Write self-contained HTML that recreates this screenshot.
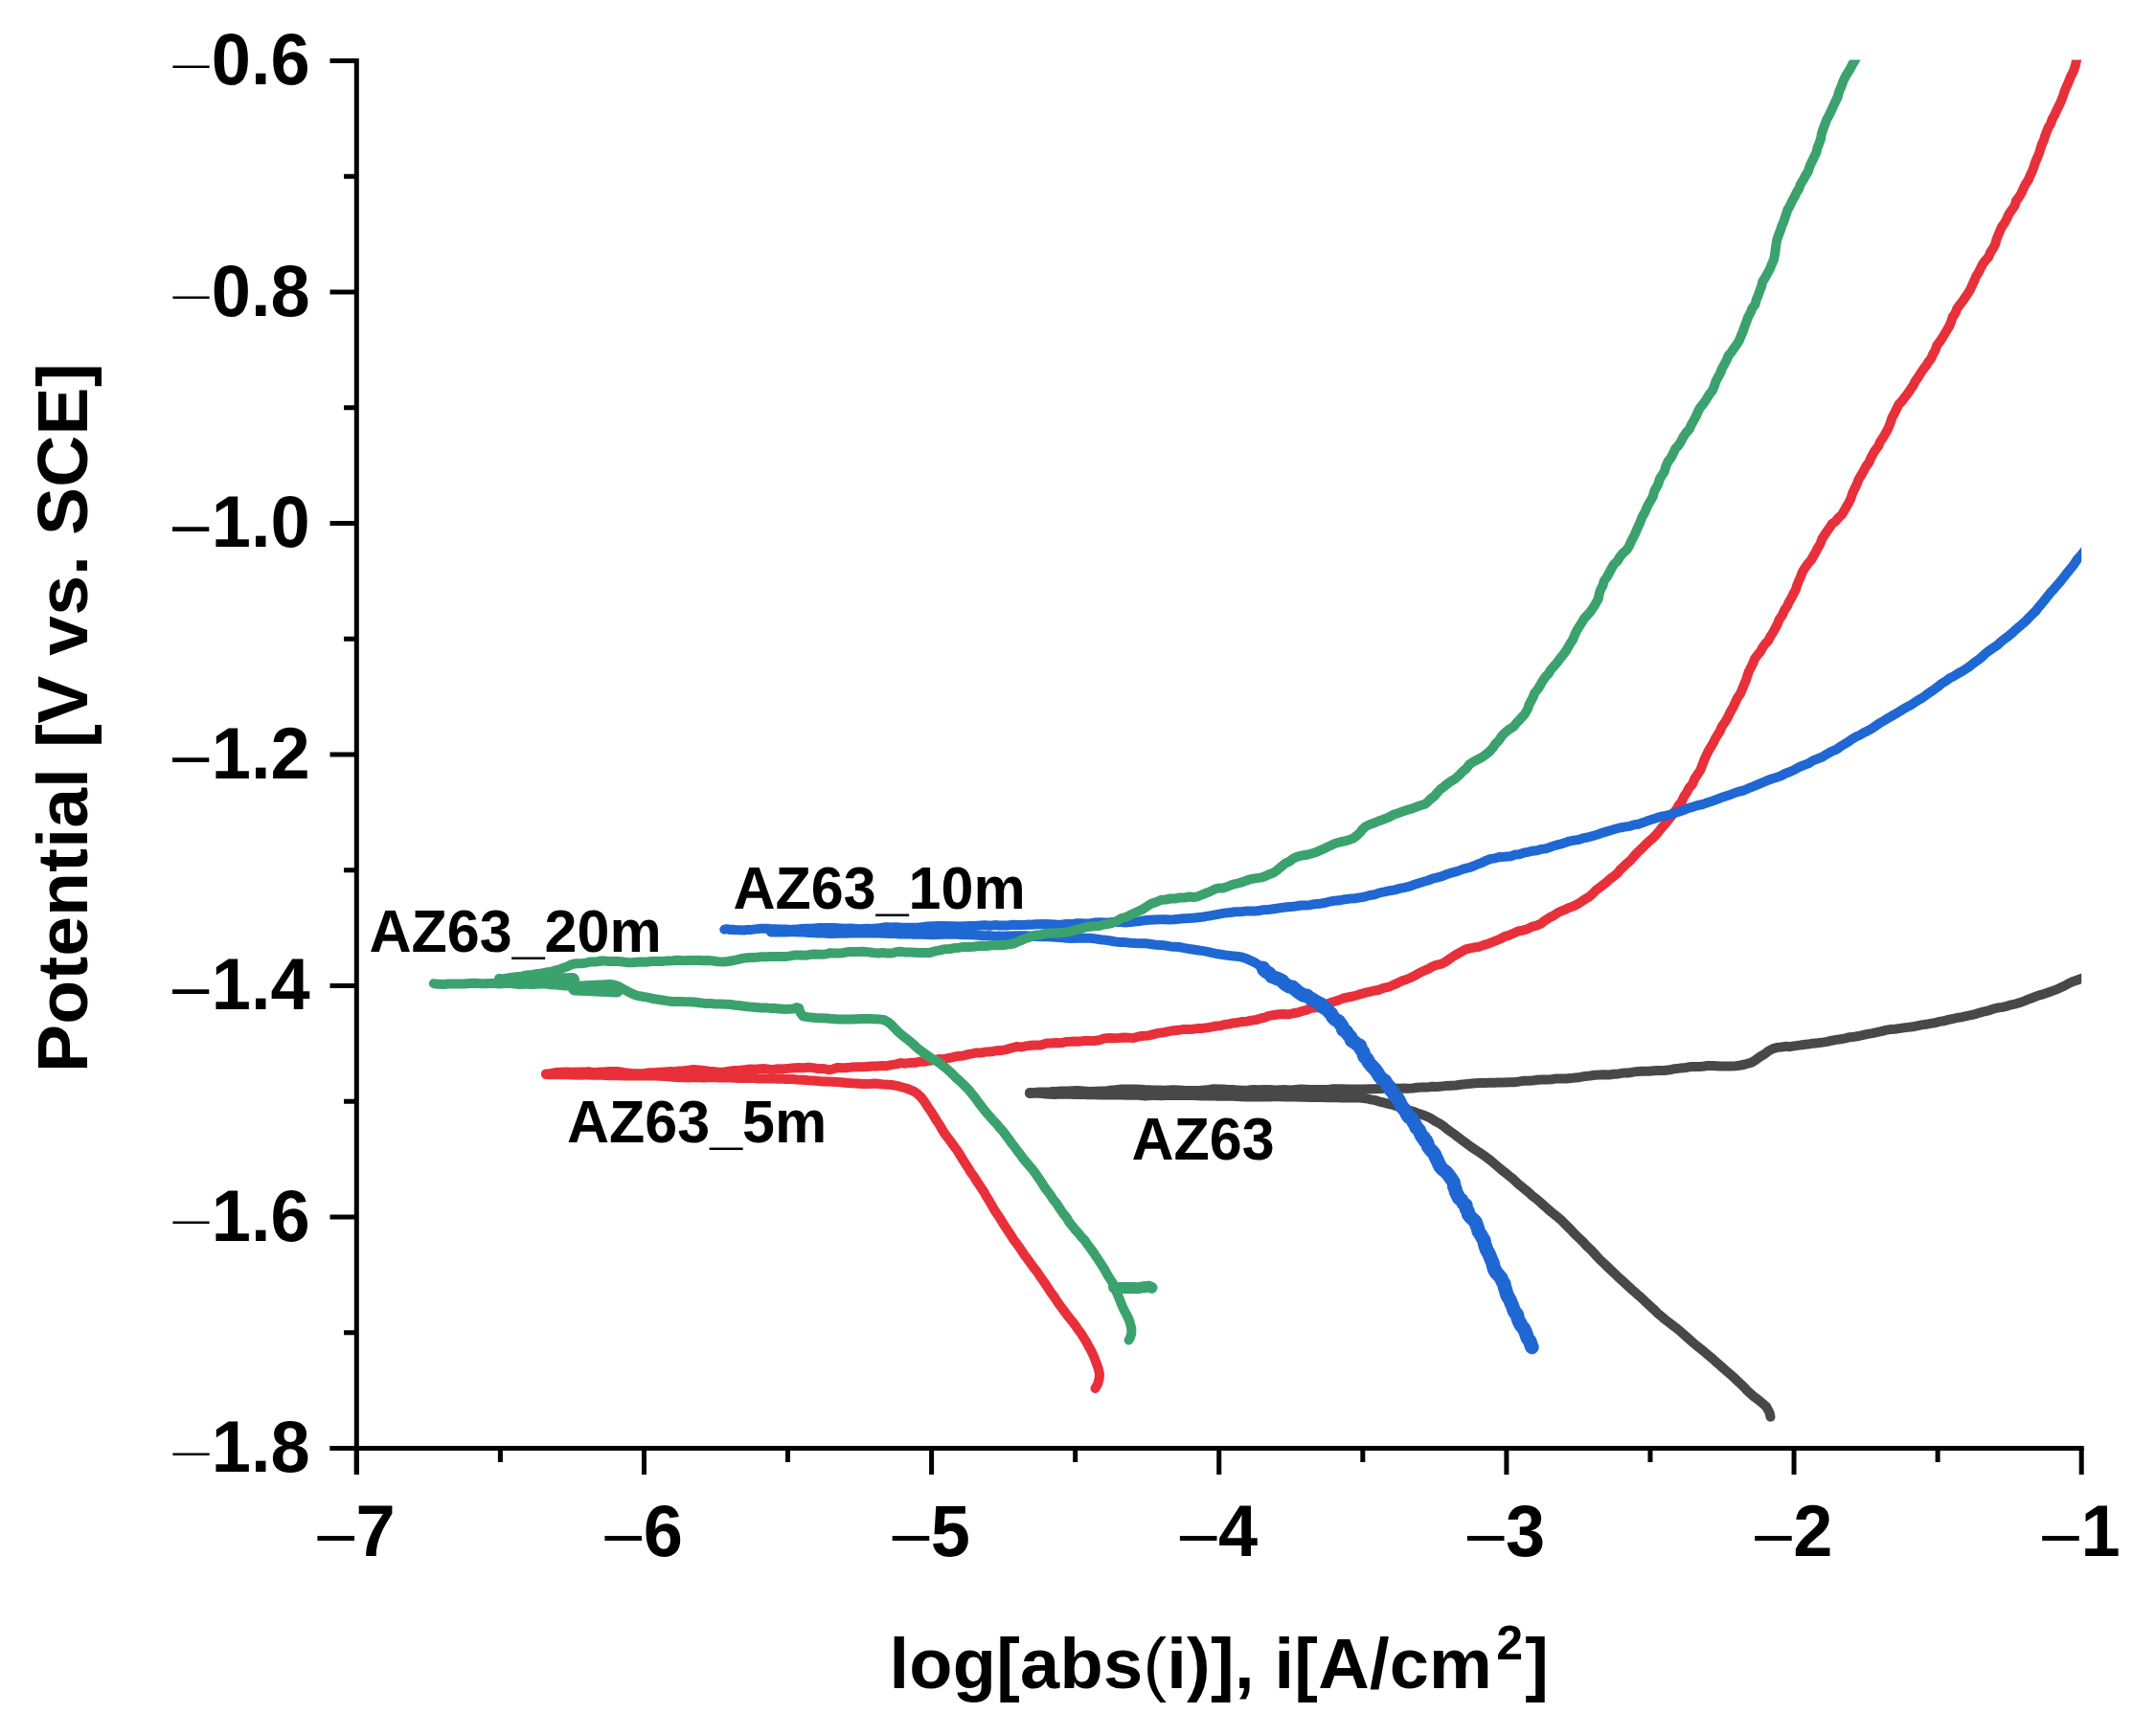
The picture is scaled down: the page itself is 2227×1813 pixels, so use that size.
<!DOCTYPE html>
<html><head><meta charset="utf-8"><title>Polarization curves</title>
<style>html,body{margin:0;padding:0;background:#fff}svg{display:block}</style></head>
<body>
<svg width="2227" height="1813" viewBox="0 0 2227 1813">
<rect width="2227" height="1813" fill="#fff"/>
<defs><clipPath id="c"><rect x="372.3" y="62.5" width="1800.8999999999999" height="1450.0"/></clipPath></defs>
<g clip-path="url(#c)" fill="none" stroke-linecap="round" stroke-linejoin="round">
<path d="M1075.0,1141.0L1077.8,1141.3L1081.0,1140.9L1084.6,1140.5L1088.6,1140.5L1093.1,1140.6L1097.8,1140.1L1102.8,1140.0L1108.1,1139.6L1113.7,1139.5L1119.4,1139.3L1125.3,1139.1L1131.4,1139.5L1137.6,1139.9L1143.8,1139.7L1150.0,1139.5L1154.1,1139.6L1158.3,1138.8L1162.6,1138.4L1167.0,1138.0L1171.5,1137.6L1176.1,1137.6L1180.7,1137.6L1185.4,1137.5L1190.2,1137.7L1195.0,1138.1L1199.9,1138.3L1204.9,1138.6L1209.9,1138.6L1215.0,1138.7L1220.1,1138.4L1225.3,1138.2L1230.5,1138.4L1235.8,1138.8L1241.1,1138.9L1246.4,1139.0L1251.8,1139.0L1257.2,1138.4L1262.6,1137.9L1267.3,1137.3L1272.1,1137.4L1277.1,1137.4L1282.2,1137.9L1287.4,1137.9L1292.7,1138.6L1298.0,1138.7L1303.4,1138.4L1308.9,1137.9L1314.4,1138.3L1319.9,1138.0L1325.4,1138.1L1330.9,1138.4L1336.4,1138.3L1341.9,1138.1L1347.3,1138.4L1352.6,1137.9L1357.9,1137.6L1363.1,1137.8L1368.2,1138.1L1373.2,1138.1L1378.0,1137.9L1382.8,1138.0L1387.3,1137.9L1391.7,1137.2L1396.0,1137.2L1400.0,1137.2L1406.8,1137.4L1413.1,1137.5L1419.0,1137.5L1424.5,1137.4L1429.6,1137.3L1434.5,1137.2L1439.1,1136.9L1443.6,1136.9L1448.0,1136.4L1452.3,1136.3L1456.6,1136.4L1461.0,1136.7L1465.5,1136.5L1470.2,1136.7L1475.0,1136.5L1480.0,1135.8L1485.0,1135.6L1490.0,1135.6L1495.0,1134.8L1500.0,1135.0L1505.0,1134.6L1510.0,1133.9L1515.0,1133.7L1520.0,1133.5L1525.0,1132.7L1530.0,1132.3L1535.0,1131.8L1539.9,1131.3L1544.9,1131.0L1550.0,1130.9L1555.0,1130.7L1560.0,1130.7L1565.0,1130.6L1570.0,1130.5L1575.0,1130.2L1580.0,1130.2L1585.0,1129.7L1590.0,1128.8L1595.0,1128.7L1600.0,1128.6L1605.0,1127.8L1610.0,1127.4L1615.0,1127.5L1620.0,1127.2L1625.0,1126.4L1630.0,1126.5L1635.1,1126.6L1640.1,1126.1L1645.0,1125.4L1650.0,1124.9L1655.0,1123.9L1660.0,1123.5L1665.0,1122.8L1670.0,1122.6L1675.0,1122.3L1680.0,1122.5L1685.0,1121.8L1690.0,1121.4L1695.0,1120.6L1700.0,1120.6L1705.1,1119.6L1710.3,1118.9L1715.8,1118.7L1721.3,1118.7L1726.8,1118.2L1732.4,1117.9L1737.9,1118.0L1743.3,1117.3L1748.6,1116.2L1753.7,1115.6L1758.5,1115.3L1763.1,1114.3L1767.4,1114.0L1771.4,1113.9L1775.0,1113.9L1783.2,1113.1L1788.7,1112.9L1792.6,1113.2L1796.0,1113.5L1800.0,1113.4L1806.1,1113.5L1812.2,1113.3L1817.6,1112.5L1822.0,1111.5L1828.7,1109.6L1832.4,1107.4L1837.2,1103.9L1842.7,1100.6L1847.4,1097.1L1851.2,1095.1L1857.0,1093.7L1860.2,1093.5L1864.0,1092.8L1868.9,1093.2L1875.0,1092.1L1878.8,1091.6L1883.0,1091.0L1887.7,1090.6L1892.6,1089.7L1897.7,1089.3L1902.8,1088.6L1907.9,1087.9L1912.6,1086.7L1917.3,1085.9L1922.0,1085.2L1926.7,1084.4L1931.3,1083.2L1936.1,1082.7L1940.8,1082.0L1945.4,1080.9L1950.1,1079.9L1954.8,1079.1L1959.4,1078.1L1964.1,1077.1L1968.7,1075.9L1973.4,1075.1L1978.2,1074.7L1982.9,1074.1L1987.6,1073.4L1992.3,1072.9L1997.0,1072.3L2001.6,1071.3L2006.3,1070.4L2011.0,1069.8L2015.6,1068.9L2020.3,1068.2L2025.0,1066.9L2029.7,1066.2L2034.3,1064.9L2039.0,1064.0L2043.7,1062.9L2048.4,1062.2L2053.1,1061.1L2057.9,1060.2L2062.6,1059.1L2067.2,1057.6L2071.8,1056.3L2076.5,1055.3L2081.1,1053.7L2085.7,1052.5L2090.6,1051.9L2095.3,1050.8L2100.0,1049.3L2104.8,1048.3L2109.6,1046.9L2114.3,1045.1L2118.9,1043.2L2123.6,1041.5L2128.3,1039.7L2133.1,1038.4L2137.7,1036.8L2143.0,1034.9L2148.5,1032.8L2153.9,1030.3L2159.0,1027.6L2163.8,1025.3L2168.4,1023.7L2172.2,1022.3L2178.7,1019.7L2182.9,1018.2L2185.0,1016.0" stroke="#484848" stroke-width="10"/>
<path d="M1075.0,1142.0L1077.7,1141.8L1080.7,1141.7L1084.0,1141.8L1087.7,1142.1L1091.7,1142.5L1096.0,1142.7L1100.7,1143.0L1105.7,1142.8L1111.0,1142.8L1116.7,1142.7L1122.7,1143.0L1129.0,1142.8L1135.7,1143.2L1142.7,1143.2L1150.0,1143.5L1153.9,1143.3L1157.9,1143.5L1162.2,1143.6L1166.6,1143.6L1171.2,1143.4L1176.0,1143.7L1180.9,1143.8L1185.9,1143.5L1191.1,1144.0L1196.3,1144.4L1201.6,1144.1L1207.0,1144.1L1212.4,1144.2L1217.9,1143.9L1223.4,1143.8L1229.0,1143.9L1234.5,1144.1L1240.0,1144.1L1245.5,1144.1L1250.9,1144.2L1256.3,1144.4L1261.6,1144.3L1266.9,1144.6L1272.0,1144.8L1277.0,1144.7L1281.9,1144.5L1286.7,1144.7L1291.3,1144.9L1295.7,1145.2L1300.0,1145.4L1306.2,1145.6L1312.4,1145.5L1318.5,1145.5L1324.4,1145.4L1330.3,1145.3L1336.1,1145.3L1341.8,1145.4L1347.3,1145.4L1352.7,1145.5L1358.0,1145.8L1363.1,1145.8L1368.0,1146.0L1372.8,1146.1L1377.3,1146.0L1381.7,1146.0L1385.8,1146.2L1389.7,1146.1L1393.4,1146.3L1396.8,1146.2L1400.0,1146.4L1411.0,1146.4L1415.8,1146.4L1418.3,1146.2L1422.0,1146.7L1426.4,1147.2L1430.6,1148.2L1435.0,1148.9L1439.7,1150.3L1445.1,1151.7L1449.6,1152.8L1454.6,1154.0L1459.8,1155.8L1465.2,1157.3L1470.4,1159.2L1475.4,1160.7L1479.8,1162.4L1485.2,1164.2L1489.9,1166.1L1494.1,1168.1L1498.2,1170.8L1503.1,1173.4L1506.8,1175.9L1510.6,1179.0L1514.7,1182.0L1519.0,1185.0L1522.9,1188.1L1526.8,1191.0L1530.3,1193.5L1534.3,1196.6L1537.6,1198.9L1540.9,1201.1L1544.8,1203.6L1549.9,1207.1L1553.0,1209.4L1556.4,1212.0L1559.9,1215.0L1563.7,1218.2L1567.5,1221.5L1571.6,1224.7L1575.7,1228.1L1579.8,1231.3L1583.6,1234.9L1587.3,1238.2L1591.2,1241.4L1595.4,1244.7L1599.3,1248.4L1603.7,1251.7L1607.8,1255.2L1611.7,1258.7L1615.4,1262.1L1618.9,1265.1L1622.1,1267.8L1625.0,1270.0L1630.2,1274.4L1632.5,1276.8L1637.6,1281.9L1640.1,1284.3L1642.7,1287.3L1645.8,1290.4L1649.3,1293.6L1653.0,1297.1L1656.4,1301.0L1660.3,1304.6L1664.0,1308.4L1667.5,1312.4L1671.0,1316.1L1674.6,1319.4L1678.4,1323.0L1682.1,1326.6L1685.9,1330.2L1689.7,1333.8L1693.5,1337.3L1697.3,1340.8L1701.1,1344.3L1704.9,1347.7L1708.7,1351.1L1712.6,1354.3L1716.3,1357.8L1719.9,1361.3L1723.6,1364.7L1727.3,1368.0L1730.7,1371.6L1734.6,1374.7L1738.3,1377.9L1742.2,1380.9L1746.2,1383.9L1750.1,1386.9L1753.9,1390.0L1757.6,1393.2L1761.3,1396.5L1764.9,1399.8L1768.6,1403.0L1772.4,1406.1L1776.2,1409.1L1780.0,1412.3L1783.8,1415.5L1787.6,1418.6L1791.4,1422.1L1795.4,1425.5L1799.5,1429.2L1803.6,1432.7L1807.7,1436.3L1811.6,1439.8L1815.3,1443.4L1818.8,1446.6L1822.0,1449.8L1824.7,1452.8L1829.9,1457.4L1834.5,1460.9L1838.2,1463.9L1841.3,1466.6L1844.2,1469.1L1847.6,1475.5L1848.5,1479.7" stroke="#484848" stroke-width="10"/>
<path d="M570.0,1121.5L572.9,1121.6L576.2,1120.8L580.3,1120.0L585.2,1119.7L591.2,1119.5L598.4,1119.7L607.0,1119.6L610.5,1119.6L614.3,1119.1L618.3,1120.0L622.4,1120.0L626.8,1119.6L631.3,1119.5L636.0,1119.0L640.8,1118.9L645.8,1119.1L650.9,1120.0L656.1,1120.6L661.4,1121.3L666.8,1121.3L672.2,1121.2L677.7,1120.3L683.2,1120.3L688.8,1119.8L694.4,1119.5L700.0,1119.1L704.5,1119.2L709.2,1118.5L714.1,1118.3L719.1,1117.7L724.3,1117.0L729.5,1117.5L734.8,1118.0L740.2,1118.7L745.7,1119.1L751.1,1119.7L756.6,1119.5L762.1,1118.6L767.5,1118.1L772.9,1117.7L778.2,1117.1L783.4,1116.4L788.6,1116.8L793.6,1116.2L798.4,1116.1L803.2,1116.7L807.7,1116.9L812.0,1116.3L816.1,1116.5L820.0,1116.1L827.0,1115.5L833.3,1115.1L839.0,1115.3L844.0,1114.6L848.7,1115.1L853.1,1115.9L857.3,1116.0L861.5,1116.3L865.8,1117.3L870.2,1116.3L874.8,1114.9L880.0,1115.2L884.7,1115.1L889.6,1114.4L894.6,1114.2L899.7,1114.2L904.9,1113.9L910.1,1113.6L915.3,1113.4L920.5,1113.0L925.7,1113.2L930.8,1112.1L935.8,1111.4L940.6,1110.1L945.5,1110.7L950.0,1109.9L955.6,1109.8L960.8,1108.6L965.9,1108.7L970.6,1107.7L975.4,1107.1L980.0,1106.1L984.9,1106.2L989.8,1105.2L994.8,1104.2L1000.1,1102.9L1006.0,1102.6L1010.3,1101.2L1015.0,1100.4L1019.8,1099.4L1025.0,1099.4L1030.1,1098.4L1035.4,1098.3L1040.7,1097.2L1046.1,1097.0L1051.3,1095.8L1056.5,1094.4L1061.5,1093.0L1066.8,1093.5L1071.6,1092.4L1076.3,1091.8L1080.9,1091.4L1086.8,1091.5L1092.2,1089.6L1097.6,1089.5L1102.8,1089.0L1107.9,1089.3L1112.8,1088.0L1117.7,1087.8L1122.5,1087.4L1127.5,1087.7L1132.4,1086.8L1137.5,1087.0L1142.7,1087.0L1147.8,1086.2L1152.9,1084.5L1158.0,1084.1L1163.2,1084.2L1168.3,1083.9L1173.5,1083.4L1178.7,1083.8L1183.9,1083.9L1188.9,1082.5L1194.0,1081.8L1199.2,1081.4L1204.4,1080.2L1209.7,1078.9L1215.1,1078.2L1220.4,1077.2L1225.6,1076.2L1230.8,1075.8L1235.8,1074.9L1240.8,1075.0L1245.5,1074.7L1249.9,1074.1L1255.5,1073.9L1260.6,1073.3L1265.3,1072.3L1269.8,1071.5L1274.2,1071.3L1278.4,1070.0L1282.9,1069.6L1287.3,1068.4L1292.2,1068.0L1297.0,1066.9L1302.1,1066.7L1307.0,1065.6L1311.8,1065.0L1316.3,1063.5L1320.7,1062.6L1324.7,1060.9L1330.5,1060.0L1335.6,1059.3L1340.4,1059.1L1345.3,1059.4L1350.1,1058.3L1354.9,1057.5L1359.4,1056.0L1364.1,1054.8L1369.0,1052.7L1375.1,1052.2L1379.2,1051.1L1383.6,1049.9L1388.0,1047.5L1392.8,1046.0L1397.7,1044.5L1402.5,1042.5L1407.5,1041.5L1412.5,1040.5L1417.1,1039.2L1421.5,1037.8L1426.0,1036.6L1430.5,1035.6L1435.2,1034.5L1440.1,1033.7L1445.0,1031.6L1450.6,1030.6L1454.6,1028.6L1458.9,1026.8L1463.3,1024.6L1468.2,1023.0L1472.9,1021.0L1477.6,1018.6L1482.1,1016.0L1486.8,1013.8L1491.4,1011.8L1495.6,1009.4L1499.9,1007.8L1505.2,1006.6L1509.8,1004.1L1513.9,1001.1L1518.0,998.4L1522.2,995.9L1526.3,993.6L1530.3,991.4L1534.9,990.3L1539.5,989.4L1544.7,988.7L1549.4,986.9L1554.2,985.5L1558.7,983.6L1563.2,981.9L1567.4,980.0L1571.3,977.9L1575.3,976.9L1580.6,974.5L1585.0,972.5L1589.6,971.7L1594.4,970.4L1599.8,967.6L1604.3,966.6L1608.9,964.7L1613.2,961.2L1617.9,958.3L1622.9,955.7L1627.5,952.6L1632.4,950.7L1636.9,948.5L1642.1,946.6L1646.9,944.4L1651.1,941.6L1655.2,938.8L1659.5,936.4L1663.1,933.1L1666.5,929.5L1670.5,926.7L1674.2,923.8L1677.8,920.8L1681.3,917.7L1685.0,914.9L1688.7,912.0L1691.6,908.3L1695.0,905.2L1698.2,901.9L1701.9,899.1L1704.8,895.6L1707.9,892.1L1711.2,888.8L1714.7,885.5L1718.1,882.0L1721.8,878.6L1725.7,875.2L1729.3,871.6L1732.5,867.7L1735.5,863.9L1738.7,860.4L1741.8,856.3L1745.0,852.5L1747.7,848.6L1750.6,844.9L1752.8,840.7L1755.9,837.2L1758.0,832.1L1761.0,827.7L1763.4,823.0L1767.0,818.9L1769.2,813.5L1772.0,809.2L1775.0,804.8L1777.1,799.7L1779.0,794.5L1781.2,789.4L1783.5,784.7L1786.1,780.4L1788.6,776.2L1790.7,771.8L1793.1,767.7L1795.8,763.5L1797.8,758.7L1800.5,754.9L1803.1,750.8L1805.2,746.4L1807.5,741.9L1810.1,737.5L1812.1,732.8L1814.4,728.1L1817.1,724.3L1819.0,719.8L1820.8,715.2L1822.8,710.7L1824.3,705.9L1825.9,701.2L1828.1,697.0L1830.2,692.9L1832.0,688.1L1834.9,684.2L1838.0,680.5L1840.2,676.4L1842.9,672.5L1846.3,669.0L1848.5,664.6L1851.2,660.4L1853.6,656.0L1855.9,651.4L1857.8,646.6L1860.9,642.3L1863.0,637.4L1866.0,633.0L1867.8,628.7L1870.3,624.5L1872.4,620.2L1874.8,616.0L1876.2,611.3L1878.0,606.7L1880.0,602.3L1881.7,597.6L1884.3,593.3L1887.2,589.1L1890.8,585.2L1893.3,580.7L1895.8,576.4L1898.1,571.9L1900.6,567.8L1902.1,563.2L1904.8,558.9L1907.5,554.9L1910.2,551.1L1912.7,547.2L1916.5,544.5L1919.3,540.9L1922.9,537.6L1925.5,533.4L1927.9,529.0L1930.4,524.7L1932.6,520.1L1934.1,515.1L1936.3,510.5L1938.6,505.9L1940.4,501.0L1943.1,496.4L1945.8,491.8L1948.2,487.1L1951.4,482.9L1953.3,478.3L1955.5,474.1L1958.2,469.7L1961.2,465.8L1962.9,461.5L1965.5,457.7L1967.9,453.8L1970.2,449.7L1972.3,445.4L1973.9,440.9L1975.4,436.2L1977.8,431.9L1980.0,427.3L1982.4,422.5L1985.7,419.0L1988.6,415.1L1991.7,411.1L1994.6,406.8L1997.5,402.6L1999.8,398.0L2002.7,394.0L2005.2,389.8L2008.0,385.7L2011.0,381.9L2013.6,377.7L2016.5,373.9L2018.3,369.5L2020.7,365.6L2022.3,360.6L2025.4,356.7L2028.0,352.6L2030.5,348.5L2033.0,344.3L2035.6,339.9L2037.3,335.5L2038.8,330.8L2041.6,326.8L2043.3,322.1L2046.4,318.2L2049.2,314.3L2051.9,310.5L2054.8,306.2L2057.4,301.9L2059.3,297.4L2061.4,293.0L2063.2,288.5L2065.8,284.4L2068.0,280.0L2070.1,275.8L2072.9,272.0L2076.2,268.3L2078.1,263.6L2081.1,259.0L2083.2,255.0L2084.4,250.3L2086.2,245.7L2088.2,241.1L2090.2,236.4L2093.3,232.3L2095.5,228.0L2097.3,223.8L2100.5,219.1L2103.5,214.9L2104.9,209.9L2108.0,205.9L2110.7,201.1L2113.1,195.7L2115.1,191.8L2117.8,187.9L2119.5,183.5L2121.7,179.0L2123.5,174.3L2125.0,169.4L2127.0,164.8L2129.0,160.1L2130.4,155.4L2131.8,150.7L2133.9,146.5L2135.2,142.0L2136.8,137.6L2138.6,133.3L2141.1,129.1L2142.6,124.4L2145.2,119.9L2147.4,115.0L2149.5,110.7L2151.7,106.1L2153.7,101.1L2155.3,95.9L2157.5,90.7L2159.8,85.6L2161.7,80.6L2164.1,75.9L2165.9,71.4L2167.2,67.1L2167.9,63.2L2169.9,56.2L2171.4,50.4L2173.0,45.9L2174.7,42.6L2176.0,40.0" stroke="#e8303a" stroke-width="10"/>
<path d="M570.0,1122.0L572.9,1122.2L576.2,1122.3L580.3,1122.3L585.3,1122.0L591.3,1122.3L598.4,1122.5L607.0,1122.7L610.5,1122.5L614.3,1122.5L618.3,1122.7L622.4,1122.7L626.8,1122.6L631.3,1123.0L636.0,1123.3L640.8,1123.0L645.8,1123.2L650.9,1123.6L656.1,1123.3L661.4,1123.5L666.7,1123.6L672.2,1123.6L677.7,1123.4L683.2,1123.5L688.8,1123.8L694.4,1124.1L700.0,1124.6L704.5,1124.9L709.2,1125.2L714.0,1125.2L719.0,1125.5L724.0,1125.1L729.2,1125.3L734.4,1125.4L739.7,1125.2L745.1,1125.0L750.4,1125.5L755.8,1125.5L761.2,1125.4L766.6,1125.7L771.9,1125.9L777.2,1125.9L782.4,1126.1L787.6,1126.1L792.6,1126.4L797.6,1126.5L802.4,1126.4L807.0,1126.2L811.5,1126.7L815.9,1126.5L820.0,1126.9L826.4,1127.0L832.4,1127.5L838.3,1127.8L844.0,1128.3L849.4,1128.6L854.6,1129.1L859.6,1129.4L864.5,1129.6L869.1,1129.7L873.6,1130.0L878.0,1130.2L882.1,1130.7L886.1,1131.1L890.0,1131.3L893.8,1131.4L901.2,1131.9L907.6,1132.0L913.3,1131.6L918.3,1132.1L922.8,1132.6L927.0,1132.7L931.0,1133.0L937.2,1134.2L942.0,1135.5L946.2,1136.5L950.0,1138.0L954.3,1139.9L957.7,1142.2L961.3,1145.4L964.0,1148.8L966.8,1153.0L969.7,1157.5L973.0,1162.2L975.5,1166.4L978.2,1170.8L981.2,1175.2L984.0,1180.2L987.2,1185.2L990.0,1188.7L992.8,1192.4L995.5,1196.4L998.5,1200.3L1001.3,1204.4L1003.8,1208.6L1006.4,1212.8L1008.9,1216.7L1011.4,1220.6L1013.7,1224.5L1016.5,1228.2L1019.0,1232.3L1021.8,1236.6L1024.8,1241.1L1027.4,1244.9L1029.8,1249.3L1032.5,1253.7L1035.2,1258.3L1037.8,1262.9L1040.8,1267.4L1043.8,1271.8L1046.4,1276.1L1048.9,1280.2L1052.1,1285.0L1055.2,1289.6L1058.0,1294.2L1061.1,1298.3L1064.2,1302.5L1067.1,1306.8L1070.0,1311.2L1073.3,1315.5L1076.4,1319.8L1079.5,1324.2L1082.9,1328.4L1085.8,1332.9L1088.9,1337.2L1091.9,1341.6L1094.8,1346.0L1097.7,1350.4L1100.9,1354.6L1103.7,1359.1L1106.7,1363.3L1109.7,1367.4L1112.6,1371.3L1116.0,1375.8L1119.6,1380.1L1122.9,1384.5L1125.8,1388.8L1128.8,1392.7L1131.1,1396.5L1134.2,1401.4L1136.5,1405.7L1138.7,1409.6L1140.6,1413.6L1143.0,1419.1L1145.0,1424.4L1146.7,1429.1L1148.0,1435.0L1147.6,1440.3L1145.9,1446.0L1143.5,1450.0" stroke="#e8303a" stroke-width="10"/>
<path d="M756.3,970.7L758.9,970.2L761.9,970.9L765.0,970.8L768.5,971.3L772.2,971.3L776.1,971.4L780.3,971.0L784.7,970.9L789.2,970.4L793.9,969.8L798.8,969.7L803.9,970.1L809.1,970.2L814.4,970.5L819.8,970.5L825.3,971.0L830.9,970.6L836.6,970.0L842.3,969.7L848.0,969.8L853.8,969.1L859.6,969.0L865.4,969.1L871.2,969.1L876.9,969.5L882.6,969.8L888.3,969.6L893.8,970.0L899.3,970.3L904.7,969.8L910.0,970.0L915.1,969.6L920.1,968.9L925.0,968.2L930.3,968.5L935.6,968.2L941.0,968.7L946.5,968.7L952.0,968.8L957.5,968.7L963.0,968.1L968.6,967.5L974.2,967.2L979.8,967.1L985.3,966.9L990.9,967.2L996.4,967.3L1001.9,967.5L1007.3,967.2L1012.7,967.1L1018.0,966.9L1023.3,966.6L1028.4,966.3L1033.5,966.7L1038.5,966.1L1043.4,966.4L1048.1,966.4L1052.8,966.4L1057.3,965.7L1061.6,966.1L1065.8,965.9L1069.9,965.9L1073.8,965.6L1077.5,965.8L1081.0,965.3L1089.9,965.1L1097.3,965.3L1103.6,965.7L1108.9,965.4L1113.4,965.0L1117.4,964.9L1121.2,964.8L1124.8,964.3L1128.6,964.3L1132.7,964.5L1137.5,964.5L1142.7,963.6L1148.0,963.3L1153.4,963.4L1158.9,963.3L1164.3,962.7L1169.6,963.1L1174.9,963.4L1180.0,963.1L1184.9,962.6L1189.6,962.1L1194.0,961.3L1200.3,960.8L1205.9,960.5L1211.1,960.3L1216.1,960.2L1220.9,960.4L1225.8,960.3L1231.0,959.8L1235.7,959.3L1240.5,959.1L1245.3,958.7L1250.1,958.2L1254.9,957.8L1259.6,956.9L1264.4,956.2L1269.0,955.3L1274.3,954.3L1279.4,953.4L1284.5,953.0L1289.6,952.2L1294.9,952.2L1300.3,951.6L1306.0,951.4L1310.5,951.4L1314.8,951.1L1319.0,950.2L1323.4,950.1L1327.9,949.5L1332.8,948.8L1338.0,948.0L1343.7,947.3L1350.0,946.7L1354.1,946.2L1358.4,945.5L1363.0,945.5L1367.8,945.2L1372.7,944.2L1377.8,943.7L1383.0,943.0L1388.1,941.7L1393.4,940.7L1398.8,940.3L1404.1,939.2L1409.5,938.6L1414.8,938.3L1420.0,937.4L1425.1,936.5L1430.1,935.0L1435.3,934.2L1440.3,932.4L1445.6,931.4L1450.9,930.2L1456.3,929.4L1461.5,927.9L1466.8,926.8L1472.0,925.6L1476.9,923.8L1481.8,922.2L1486.6,920.8L1491.2,919.5L1495.6,917.7L1499.9,916.6L1505.5,915.1L1510.7,913.0L1515.9,911.4L1521.0,910.1L1525.7,908.3L1530.3,906.9L1534.9,905.8L1539.0,904.3L1542.9,902.5L1546.6,901.2L1550.0,899.5L1555.7,897.2L1560.8,896.3L1565.1,895.1L1569.1,894.9L1573.1,894.6L1577.2,894.3L1581.8,892.6L1586.3,892.2L1590.6,890.7L1595.1,889.8L1600.0,888.7L1604.6,888.2L1609.3,886.9L1614.3,886.2L1619.1,884.6L1623.9,882.9L1628.8,881.7L1633.5,880.2L1638.3,878.6L1643.1,877.6L1648.0,877.0L1652.7,875.4L1657.6,874.5L1662.5,873.2L1667.3,871.8L1672.0,870.0L1676.8,868.6L1681.6,867.2L1686.4,865.8L1691.2,864.5L1696.1,863.6L1701.0,862.9L1705.7,861.4L1710.6,860.7L1715.3,859.1L1720.0,857.3L1724.8,855.8L1729.6,854.3L1734.3,852.6L1739.3,851.9L1744.2,850.7L1748.9,848.9L1753.7,847.4L1758.4,845.8L1763.1,843.9L1767.9,842.6L1772.7,841.0L1777.7,840.0L1782.5,838.3L1787.3,836.7L1792.1,835.0L1796.9,833.1L1801.7,831.5L1806.5,829.9L1811.3,828.1L1816.1,826.6L1821.0,825.3L1825.7,823.2L1830.5,821.3L1835.2,819.3L1839.9,817.3L1844.7,815.3L1849.6,813.5L1854.5,811.9L1859.5,810.2L1864.1,807.8L1869.0,806.0L1873.8,803.7L1878.4,801.2L1883.3,799.1L1888.3,797.3L1892.8,794.4L1897.8,792.4L1902.7,790.5L1907.3,787.6L1912.0,784.9L1917.1,782.9L1921.0,780.1L1925.1,777.6L1929.2,775.1L1933.1,772.3L1937.2,769.8L1941.7,767.8L1945.8,765.3L1950.1,763.2L1954.4,760.9L1958.3,758.1L1962.2,755.4L1966.4,753.0L1970.5,750.5L1974.6,748.1L1978.8,745.7L1982.8,743.2L1987.0,740.7L1991.1,738.4L1995.4,736.1L1999.4,733.4L2003.5,730.8L2007.7,728.4L2011.6,725.4L2015.6,722.6L2019.7,719.8L2023.7,716.9L2027.4,713.7L2031.7,711.2L2035.6,708.3L2040.0,706.1L2044.1,703.5L2048.4,701.2L2052.5,698.6L2056.6,695.8L2060.5,692.6L2064.7,689.7L2068.8,686.5L2072.6,682.9L2076.7,679.6L2081.1,676.6L2085.6,673.6L2089.5,669.9L2093.3,667.0L2097.1,664.2L2100.8,661.2L2104.2,657.8L2108.0,654.7L2111.7,651.5L2115.4,648.2L2118.9,644.5L2122.2,641.2L2125.6,638.0L2128.4,634.1L2131.7,630.5L2134.7,626.7L2137.7,622.9L2140.7,619.1L2144.0,615.7L2146.9,612.1L2150.5,608.2L2153.8,604.0L2157.1,599.7L2160.4,595.6L2163.7,591.6L2166.6,587.6L2169.1,583.8L2171.9,580.8L2176.5,575.1L2180.2,570.0L2183.3,566.2L2185.0,563.0" stroke="#1f67d3" stroke-width="10"/>
<path d="M805.0,973.5L807.6,973.5L810.6,973.4L813.9,973.6L817.5,973.4L821.3,973.4L825.4,973.2L829.8,973.2L834.4,973.4L839.1,973.6L844.1,973.9L849.2,974.3L854.5,974.4L859.9,974.6L865.4,974.9L871.0,974.9L876.7,974.5L882.5,974.7L888.2,974.6L894.0,974.4L899.8,974.2L905.6,974.5L911.3,974.4L917.0,974.6L922.6,974.7L928.1,974.9L933.5,975.1L938.8,975.6L943.9,975.4L948.8,975.3L953.6,975.7L958.2,975.8L962.5,975.8L968.3,976.1L974.1,976.3L979.9,975.9L985.6,975.7L991.2,975.7L996.8,975.5L1002.3,975.9L1007.7,976.3L1013.0,976.3L1018.2,976.6L1023.3,976.9L1028.3,977.2L1033.3,977.1L1038.0,977.7L1042.7,977.6L1047.3,977.7L1051.7,977.6L1056.0,977.5L1060.1,977.2L1064.1,977.2L1067.9,977.2L1071.5,977.2L1075.0,977.6L1082.8,978.0L1089.1,978.2L1094.2,978.3L1098.5,978.5L1102.2,978.8L1105.8,979.0L1109.5,979.3L1113.7,979.8L1118.8,979.9L1123.4,979.7L1128.3,979.7L1133.3,979.8L1138.4,979.7L1143.6,980.4L1148.8,981.3L1154.1,981.7L1159.4,982.5L1164.6,983.5L1169.8,984.0L1175.0,984.1L1180.1,984.8L1185.4,985.1L1190.8,985.2L1196.2,985.3L1201.5,986.0L1206.8,986.7L1212.0,987.1L1217.1,987.6L1221.9,988.4L1226.6,988.7L1231.1,989.0L1236.7,990.1L1242.0,991.0L1246.9,991.7L1251.6,992.5L1256.2,993.1L1260.5,993.9L1264.8,994.9L1269.0,995.9L1274.7,996.8L1280.3,997.6L1285.7,998.3L1290.9,998.7L1295.8,999.4L1300.2,1000.7L1306.1,1003.3L1311.5,1006.0L1315.7,1008.9L1318.8,1010.7" stroke="#1f67d3" stroke-width="10"/>
<path d="M1318.8,1010.7L1319.8,1012.9L1322.2,1014.8L1325.2,1016.7L1327.8,1019.8L1331.7,1021.4L1335.4,1022.7L1338.5,1024.2L1340.8,1027.0L1343.5,1028.8L1346.3,1030.3L1349.6,1030.9L1352.4,1033.4L1355.5,1036.0L1358.0,1037.6L1360.7,1039.4L1364.5,1039.7L1367.2,1042.1L1370.4,1043.7L1373.4,1045.7L1376.4,1047.4L1379.4,1048.8L1381.0,1051.7L1384.7,1053.7L1387.4,1056.4L1390.0,1059.0L1391.6,1062.2L1394.2,1064.7L1397.7,1066.4L1399.5,1069.4L1401.5,1072.1L1402.4,1075.7L1405.7,1077.3L1407.5,1080.4L1410.2,1083.3L1411.0,1086.6L1414.1,1088.3L1416.6,1090.4L1420.0,1092.1L1421.0,1095.8L1423.3,1098.9L1424.4,1103.3L1427.7,1106.5L1428.9,1109.4L1431.1,1112.0L1433.4,1114.6L1436.0,1117.3L1438.2,1120.4L1440.1,1123.8L1442.8,1126.7L1446.1,1129.0L1448.1,1132.4L1450.6,1135.2L1452.2,1138.5L1454.6,1141.0L1456.0,1144.0L1459.0,1146.7L1460.9,1149.9L1462.3,1153.1L1463.9,1156.1L1466.1,1158.5L1467.9,1161.2L1469.2,1164.1L1471.0,1166.7L1474.2,1168.5L1475.7,1171.4L1477.5,1174.3L1478.7,1177.6L1481.3,1179.8L1482.7,1182.9L1484.2,1186.0L1486.0,1188.8L1488.8,1191.0L1490.2,1194.1L1491.2,1197.6L1493.2,1200.4L1495.7,1202.9L1497.9,1205.6L1499.2,1209.0L1500.8,1212.1L1502.2,1215.3L1503.8,1218.5L1506.2,1221.2L1509.3,1223.5L1511.7,1226.3L1513.9,1229.1L1515.8,1231.9L1517.6,1234.7L1518.2,1238.2L1519.3,1241.5L1520.1,1244.9L1521.7,1247.9L1523.0,1251.0L1525.9,1253.3L1527.5,1256.2L1530.4,1258.5L1530.8,1262.2L1532.6,1265.1L1533.2,1268.5L1535.4,1271.2L1538.1,1273.6L1540.6,1276.2L1541.7,1279.5L1542.9,1282.7L1543.7,1286.2L1545.8,1289.0L1547.4,1292.1L1549.3,1295.1L1550.0,1298.7L1551.0,1302.2L1552.3,1305.5L1554.2,1308.7L1555.6,1312.1L1556.9,1315.5L1558.4,1318.8L1559.2,1322.5L1560.3,1326.0L1562.1,1329.1L1564.7,1331.8L1567.2,1334.6L1568.4,1337.8L1570.4,1340.7L1570.9,1344.2L1572.1,1347.4L1572.9,1350.8L1574.2,1354.0L1576.1,1356.9L1577.4,1360.2L1578.9,1363.5L1580.1,1367.0L1581.4,1370.1L1583.9,1372.9L1584.7,1376.7L1586.1,1380.4L1587.9,1384.0L1590.6,1387.1L1592.5,1390.5L1593.7,1394.1L1594.9,1397.5L1596.9,1400.1L1598.0,1402.8L1598.7,1405.2L1599.5,1407.0" stroke="#1f67d3" stroke-width="14.5"/>
<path d="M1410.6,1083.0L1410.9,1086.4L1416.2,1087.4L1420.2,1090.3L1420.8,1096.5L1424.3,1101.3L1428.2,1106.2L1431.1,1109.6L1435.8,1112.3L1439.1,1116.5L1438.7,1123.8L1445.3,1125.8L1445.6,1132.6L1447.9,1137.7L1450.3,1142.3L1452.3,1146.6L1461.9,1146.6L1464.7,1150.9L1462.8,1157.9L1466.8,1160.8L1472.7,1162.4L1470.8,1169.0L1471.6,1174.2L1474.6,1178.0L1483.0,1178.1L1484.9,1182.6L1490.2,1184.8L1484.1,1194.7L1493.7,1194.2L1491.7,1201.4L1496.1,1204.4L1498.3,1208.9L1501.6,1212.8L1501.4,1218.8L1506.2,1221.8L1511.7,1224.5L1516.1,1227.8L1515.4,1234.3L1513.9,1241.3L1524.0,1241.4L1521.6,1249.0L1524.8,1253.3L1532.0,1255.4L1534.1,1260.4L1531.7,1267.0L1536.2,1269.8L1538.6,1273.9L1540.0,1278.4L1545.8,1280.9L1541.9,1288.0L1545.1,1291.8L1547.7,1295.9L1551.7,1299.4L1549.0,1306.1L1550.9,1310.7L1555.8,1314.0L1562.4,1316.6L1563.8,1321.4L1565.8,1325.9L1568.6,1330.0L1565.0,1337.1L1568.1,1340.8L1573.5,1343.4L1568.5,1351.0L1573.3,1353.9L1573.8,1359.0L1575.7,1363.5L1579.2,1367.4L1582.8,1371.2L1580.5,1378.2L1591.4,1379.5L1588.2,1387.2L1588.6,1393.2L1594.8,1396.2L1593.4,1402.1L1601.4,1402.8L1599.5,1407.0" stroke="#1f67d3" stroke-width="5"/>
<path d="M521.0,1022.0L524.2,1022.7L528.4,1021.8L533.4,1021.0L538.9,1020.3L544.6,1019.7L550.2,1018.4L555.4,1017.9L559.8,1017.3L565.7,1016.5L571.1,1015.5L576.0,1014.7L580.4,1013.4L584.6,1012.2L589.2,1010.4L593.3,1009.0L597.2,1007.0L601.8,1006.3L606.8,1006.2L611.7,1005.6L616.7,1004.4L622.0,1004.4L625.3,1004.1L627.6,1003.4L630.6,1003.6L635.8,1003.9L645.0,1004.1L648.3,1004.2L651.9,1004.8L656.0,1005.2L660.3,1005.2L664.9,1004.7L669.8,1004.6L674.9,1004.7L680.1,1004.0L685.5,1004.0L691.0,1004.1L696.6,1003.4L702.1,1003.3L707.7,1002.8L713.2,1003.2L718.6,1003.0L723.9,1003.0L729.1,1002.7L734.1,1003.3L738.8,1003.1L744.2,1003.5L749.6,1004.3L754.9,1004.6L760.1,1004.0L765.2,1003.2L770.2,1002.2L775.2,1000.9L780.2,1000.3L785.1,999.9L790.1,999.7L795.0,999.2L800.0,999.3L805.0,999.0L810.0,998.9L815.0,998.9L820.0,999.1L825.1,998.4L830.2,997.4L835.5,997.5L840.8,997.8L846.1,996.8L851.4,996.6L856.7,996.7L861.9,996.5L867.1,995.2L872.2,995.5L877.2,995.6L882.1,994.8L886.8,994.0L891.4,994.1L895.8,994.0L899.9,993.7L906.2,994.2L911.8,995.0L917.0,995.5L921.9,994.9L926.5,995.6L931.0,995.5L935.5,994.3L940.1,993.8L944.9,994.4L950.0,994.6L955.0,994.7L960.2,995.1L965.5,994.9L970.9,994.9L976.2,993.4L981.5,992.4L986.7,991.2L991.9,991.0L996.8,990.1L1001.5,989.7L1005.9,988.9L1011.6,989.1L1016.7,988.8L1021.5,987.9L1026.0,987.8L1030.4,988.0L1034.8,987.3L1039.2,987.0L1043.8,987.2L1048.7,987.1L1053.4,986.2L1058.3,985.5L1062.7,983.4L1067.2,981.8L1071.7,979.8L1076.3,978.4L1080.8,976.5L1085.7,976.4L1090.3,975.2L1095.1,974.5L1099.9,974.5L1104.7,974.5L1109.5,973.9L1114.2,973.4L1118.9,972.6L1123.5,971.1L1128.3,969.9L1133.0,968.4L1137.9,967.7L1142.7,967.3L1147.5,967.0L1151.8,965.7L1156.2,965.1L1161.5,963.8L1166.2,961.8L1170.5,959.2L1175.1,958.0L1179.4,955.9L1183.8,953.8L1188.5,951.7L1193.1,949.5L1197.5,946.6L1202.1,943.7L1207.3,942.0L1212.4,939.8L1217.0,939.5L1221.7,938.5L1226.8,938.5L1231.9,937.5L1237.0,937.5L1241.7,936.5L1246.3,937.0L1250.2,936.3L1255.7,934.2L1259.5,932.6L1263.4,931.1L1268.7,928.4L1272.6,927.5L1277.4,927.4L1282.3,925.6L1287.3,923.7L1292.5,922.5L1297.4,921.1L1301.8,919.4L1305.7,918.2L1311.7,917.1L1316.1,916.6L1320.1,915.4L1324.7,913.2L1329.0,911.8L1333.2,909.1L1337.2,905.6L1341.4,902.1L1346.1,899.8L1350.0,896.8L1354.7,894.6L1359.3,893.5L1364.1,892.8L1369.1,891.5L1374.9,889.7L1379.0,887.9L1383.6,885.8L1388.4,883.4L1393.5,881.0L1398.8,879.5L1404.1,878.4L1408.8,876.9L1412.9,875.5L1417.1,872.2L1420.1,869.4L1422.3,866.3L1425.5,863.4L1430.4,860.9L1434.7,859.5L1439.3,857.5L1444.5,855.7L1449.8,853.6L1454.8,850.8L1460.0,849.2L1464.6,847.4L1468.7,846.1L1475.0,844.2L1479.6,842.4L1483.6,841.0L1487.9,839.8L1491.1,837.0L1494.0,834.1L1497.6,831.4L1501.1,827.3L1503.8,824.4L1507.4,821.8L1511.1,818.6L1515.3,815.7L1519.8,812.9L1523.8,809.3L1527.5,805.4L1531.1,802.5L1534.0,798.5L1537.8,795.7L1542.3,793.5L1546.8,791.1L1551.1,788.2L1555.2,784.9L1558.8,780.8L1561.3,776.8L1564.9,773.4L1567.8,768.9L1571.4,765.1L1575.7,761.8L1580.2,759.0L1583.3,755.1L1586.6,751.7L1589.4,748.6L1591.9,745.9L1595.2,740.1L1596.5,735.7L1598.6,732.0L1600.7,727.9L1602.3,723.6L1605.4,719.9L1608.1,715.7L1610.5,711.1L1613.6,706.8L1616.8,703.5L1619.1,699.5L1622.3,695.9L1625.5,692.3L1628.4,688.2L1631.7,684.3L1634.5,680.6L1636.9,676.5L1639.3,672.3L1642.0,668.2L1644.0,663.6L1645.9,659.1L1648.4,655.1L1651.2,650.6L1653.9,646.2L1657.3,642.4L1660.7,638.6L1663.6,634.3L1666.4,629.7L1668.7,625.5L1669.6,620.7L1671.0,615.9L1673.5,611.6L1674.8,606.6L1677.9,602.3L1680.4,597.8L1682.6,593.6L1685.0,589.4L1688.8,585.9L1691.2,581.5L1694.4,577.7L1698.2,574.4L1700.8,570.5L1702.6,566.4L1705.0,561.6L1707.3,557.3L1709.0,552.9L1711.0,548.8L1712.8,544.5L1714.5,540.0L1716.9,535.9L1718.7,531.7L1720.6,527.5L1723.1,523.3L1725.7,518.6L1727.3,512.6L1729.4,509.1L1731.5,505.1L1732.7,500.5L1735.3,496.3L1738.0,492.0L1739.3,486.9L1741.5,482.1L1744.7,477.9L1747.0,473.3L1749.2,468.7L1752.6,465.0L1755.3,460.7L1757.5,456.1L1760.5,451.9L1763.9,448.0L1766.0,443.3L1768.5,438.9L1770.9,434.5L1772.8,429.8L1775.2,425.6L1778.6,421.3L1781.7,416.8L1784.5,412.1L1787.9,407.7L1790.0,402.8L1791.6,397.8L1794.0,393.4L1796.3,389.3L1797.7,385.1L1800.6,380.0L1802.9,375.7L1804.6,371.5L1807.4,368.1L1810.1,364.2L1813.2,359.8L1815.7,355.8L1817.5,351.3L1819.6,346.6L1821.3,341.5L1823.2,336.5L1825.0,331.4L1827.6,326.7L1829.5,321.9L1832.6,317.7L1833.8,312.9L1835.7,308.4L1837.3,303.7L1839.1,299.1L1840.2,294.2L1843.0,289.8L1845.6,285.1L1848.0,280.7L1849.8,276.0L1852.0,271.1L1853.0,265.9L1853.7,260.6L1854.4,255.3L1855.3,250.3L1856.9,245.7L1858.6,241.4L1860.2,236.3L1862.1,231.9L1863.6,227.6L1865.0,223.4L1866.4,219.0L1868.9,214.7L1871.3,209.5L1873.6,205.7L1875.5,201.4L1878.2,197.2L1879.9,192.4L1882.7,187.9L1885.2,183.2L1888.0,178.6L1889.5,173.4L1891.9,168.6L1894.1,163.9L1896.4,159.3L1897.5,154.3L1899.4,149.6L1901.1,144.7L1901.9,139.6L1903.5,134.7L1905.4,129.9L1907.2,124.9L1909.8,120.2L1912.1,115.4L1914.1,110.7L1916.5,105.8L1918.8,100.8L1920.3,95.2L1922.6,89.9L1924.5,84.6L1926.9,79.7L1929.7,75.2L1932.2,70.9L1934.3,66.9L1936.4,63.4L1939.9,56.8L1942.4,51.2L1944.3,46.7L1946.2,43.3L1946.0,40.0" stroke="#3ba26d" stroke-width="10"/>
<path d="M452.8,1027.2L455.6,1027.7L459.2,1027.8L463.4,1027.9L468.2,1027.6L473.3,1027.6L478.8,1027.4L484.5,1027.5L490.2,1027.0L496.0,1026.8L501.7,1027.3L507.1,1027.3L512.2,1026.9L516.9,1027.0L521.0,1027.4L527.3,1027.1L532.8,1027.1L537.7,1027.5L542.3,1027.9L546.6,1027.7L550.9,1027.7L555.3,1027.9L560.0,1027.7L565.0,1027.4L570.0,1027.5L575.0,1028.2L580.0,1028.4L585.0,1029.1L590.0,1029.4L595.0,1029.5L600.0,1029.2L605.1,1029.4L610.4,1029.3L615.7,1029.0L621.0,1028.7L626.2,1028.4L631.1,1028.2L635.8,1027.9L640.1,1028.3L645.7,1030.0L650.1,1032.5L654.2,1034.8L658.6,1037.1L663.8,1039.4L667.7,1040.3L671.8,1041.0L676.1,1041.6L680.5,1042.7L685.2,1043.5L690.2,1044.2L695.5,1045.1L701.2,1046.0L705.6,1046.0L710.3,1045.9L715.1,1046.2L720.1,1046.2L725.3,1046.5L730.5,1047.2L735.9,1047.9L741.3,1047.9L746.7,1048.5L752.2,1048.6L757.6,1048.8L762.4,1048.9L767.3,1049.7L772.6,1050.2L777.9,1051.0L783.3,1051.6L788.7,1052.0L794.1,1052.5L799.3,1052.4L804.2,1052.9L808.8,1053.0L813.0,1053.4L816.8,1053.7L820.0,1053.9L828.5,1053.4L831.7,1052.2L834.3,1052.8L835.2,1056.9L838.4,1061.4L841.7,1061.9L846.2,1062.6L851.6,1063.0L857.4,1063.2L863.5,1063.5L869.4,1064.1L875.0,1064.5L879.8,1064.4L884.9,1064.6L890.0,1064.6L895.1,1064.3L900.1,1064.1L904.7,1064.1L908.9,1064.1L912.5,1064.3L919.2,1064.6L923.5,1065.3L927.6,1067.6L930.9,1070.5L934.1,1073.9L937.9,1077.8L942.6,1081.8L946.0,1084.4L949.7,1087.2L953.5,1090.5L957.3,1094.1L961.3,1097.3L965.2,1100.1L968.7,1102.6L973.0,1105.6L977.1,1107.7L980.7,1110.0L984.0,1112.7L987.6,1115.5L991.2,1118.7L994.7,1122.0L998.2,1125.6L1002.0,1128.9L1005.9,1132.6L1009.2,1135.9L1012.5,1139.5L1015.6,1143.3L1018.7,1147.3L1021.6,1151.4L1024.6,1155.3L1027.6,1159.2L1030.7,1162.9L1033.9,1166.6L1037.1,1170.2L1040.6,1173.7L1043.6,1177.7L1047.1,1181.3L1050.1,1185.5L1053.3,1189.6L1056.2,1193.9L1059.4,1197.9L1062.4,1202.1L1065.6,1206.0L1068.4,1210.1L1071.7,1213.9L1074.9,1217.7L1078.2,1221.6L1081.3,1225.8L1083.8,1229.5L1086.5,1233.3L1088.9,1237.2L1091.5,1241.2L1094.4,1244.9L1097.2,1248.7L1099.6,1252.8L1102.8,1256.4L1105.3,1260.4L1108.0,1264.4L1110.8,1268.3L1113.9,1272.0L1116.2,1276.3L1119.4,1280.1L1122.4,1284.0L1125.8,1287.7L1129.0,1291.7L1132.5,1295.3L1135.3,1299.5L1138.4,1303.5L1141.3,1307.5L1144.1,1311.8L1147.1,1316.2L1150.1,1320.7L1152.9,1325.1L1155.2,1329.4L1157.4,1333.1L1159.3,1336.1L1162.2,1340.7L1163.3,1344.6L1165.4,1348.6L1167.6,1353.8L1169.8,1359.2L1171.8,1364.3L1174.0,1368.9L1176.4,1373.3L1178.4,1377.5L1179.8,1381.4L1181.3,1387.5L1181.3,1392.5L1180.1,1396.7L1178.6,1399.5" stroke="#3ba26d" stroke-width="10"/>
<path d="M1163.0,1344.5L1166.3,1344.9L1171.0,1345.1L1176.7,1345.0L1182.7,1345.1L1188.8,1345.2L1194.5,1344.2L1199.2,1343.6L1202.5,1344.8" stroke="#3ba26d" stroke-width="12"/>
<path d="M523.0,1024.5L560.0,1024.0L598.0,1023.0" stroke="#3ba26d" stroke-width="14"/>
<path d="M600.0,1032.5L644.0,1034.5" stroke="#3ba26d" stroke-width="14"/>
</g>
<g fill="#000">
<rect x="369.8" y="61.0" width="5.0" height="1479.0"/>
<rect x="344.5" y="1510.0" width="1831.1999999999998" height="5.0"/>
<rect x="344.5" y="61.00" width="27.80000000000001" height="5.0"/>
<rect x="359" y="181.75" width="13.300000000000011" height="5.0"/>
<rect x="344.5" y="302.50" width="27.80000000000001" height="5.0"/>
<rect x="359" y="423.25" width="13.300000000000011" height="5.0"/>
<rect x="344.5" y="544.00" width="27.80000000000001" height="5.0"/>
<rect x="359" y="664.75" width="13.300000000000011" height="5.0"/>
<rect x="344.5" y="785.50" width="27.80000000000001" height="5.0"/>
<rect x="359" y="906.25" width="13.300000000000011" height="5.0"/>
<rect x="344.5" y="1027.00" width="27.80000000000001" height="5.0"/>
<rect x="359" y="1147.75" width="13.300000000000011" height="5.0"/>
<rect x="344.5" y="1268.50" width="27.80000000000001" height="5.0"/>
<rect x="359" y="1389.25" width="13.300000000000011" height="5.0"/>
<rect x="344.5" y="1510.00" width="27.80000000000001" height="5.0"/>
<rect x="369.80" y="1512.5" width="5.0" height="27.5"/>
<rect x="519.88" y="1512.5" width="5.0" height="14.5"/>
<rect x="669.95" y="1512.5" width="5.0" height="27.5"/>
<rect x="820.03" y="1512.5" width="5.0" height="14.5"/>
<rect x="970.10" y="1512.5" width="5.0" height="27.5"/>
<rect x="1120.17" y="1512.5" width="5.0" height="14.5"/>
<rect x="1270.25" y="1512.5" width="5.0" height="27.5"/>
<rect x="1420.33" y="1512.5" width="5.0" height="14.5"/>
<rect x="1570.40" y="1512.5" width="5.0" height="27.5"/>
<rect x="1720.47" y="1512.5" width="5.0" height="14.5"/>
<rect x="1870.55" y="1512.5" width="5.0" height="27.5"/>
<rect x="2020.62" y="1512.5" width="5.0" height="14.5"/>
<rect x="2170.70" y="1512.5" width="5.0" height="27.5"/>
</g>
<text transform="translate(176.14,81.68) scale(0.7881,0.3662)" font-family="Liberation Sans, Arial, sans-serif" font-size="100.0" font-weight="normal">−</text>
<text transform="translate(323.66,88.00) scale(1,1.02)" font-family="Liberation Sans, Arial, sans-serif" font-size="74" font-weight="bold" text-anchor="end" >0.6</text>
<text transform="translate(176.14,323.18) scale(0.7881,0.3662)" font-family="Liberation Sans, Arial, sans-serif" font-size="100.0" font-weight="normal">−</text>
<text transform="translate(323.66,329.50) scale(1,1.02)" font-family="Liberation Sans, Arial, sans-serif" font-size="74" font-weight="bold" text-anchor="end" >0.8</text>
<text transform="translate(176.14,574.98) scale(0.7881,0.6761)" font-family="Liberation Sans, Arial, sans-serif" font-size="100.0" font-weight="normal">−</text>
<text transform="translate(323.66,571.00) scale(1,1.02)" font-family="Liberation Sans, Arial, sans-serif" font-size="74" font-weight="bold" text-anchor="end" >1.0</text>
<text transform="translate(176.14,816.48) scale(0.7881,0.6761)" font-family="Liberation Sans, Arial, sans-serif" font-size="100.0" font-weight="normal">−</text>
<text transform="translate(323.66,812.50) scale(1,1.02)" font-family="Liberation Sans, Arial, sans-serif" font-size="74" font-weight="bold" text-anchor="end" >1.2</text>
<text transform="translate(176.14,1057.98) scale(0.7881,0.6761)" font-family="Liberation Sans, Arial, sans-serif" font-size="100.0" font-weight="normal">−</text>
<text transform="translate(323.66,1054.00) scale(1,1.02)" font-family="Liberation Sans, Arial, sans-serif" font-size="74" font-weight="bold" text-anchor="end" >1.4</text>
<text transform="translate(176.14,1289.18) scale(0.7881,0.3662)" font-family="Liberation Sans, Arial, sans-serif" font-size="100.0" font-weight="normal">−</text>
<text transform="translate(323.66,1295.50) scale(1,1.02)" font-family="Liberation Sans, Arial, sans-serif" font-size="74" font-weight="bold" text-anchor="end" >1.6</text>
<text transform="translate(176.14,1530.68) scale(0.7881,0.3662)" font-family="Liberation Sans, Arial, sans-serif" font-size="100.0" font-weight="normal">−</text>
<text transform="translate(323.66,1537.00) scale(1,1.02)" font-family="Liberation Sans, Arial, sans-serif" font-size="74" font-weight="bold" text-anchor="end" >1.8</text>
<text transform="translate(327.21,1630.32) scale(0.7942,0.7042)" font-family="Liberation Sans, Arial, sans-serif" font-size="100.0" font-weight="normal">−</text>
<text transform="translate(371.50,1624.50) scale(1,1.02)" font-family="Liberation Sans, Arial, sans-serif" font-size="74" font-weight="bold" text-anchor="start" >7</text>
<text transform="translate(627.36,1630.32) scale(0.7942,0.7042)" font-family="Liberation Sans, Arial, sans-serif" font-size="100.0" font-weight="normal">−</text>
<text transform="translate(671.65,1624.50) scale(1,1.02)" font-family="Liberation Sans, Arial, sans-serif" font-size="74" font-weight="bold" text-anchor="start" >6</text>
<text transform="translate(927.51,1630.32) scale(0.7942,0.7042)" font-family="Liberation Sans, Arial, sans-serif" font-size="100.0" font-weight="normal">−</text>
<text transform="translate(971.80,1624.50) scale(1,1.02)" font-family="Liberation Sans, Arial, sans-serif" font-size="74" font-weight="bold" text-anchor="start" >5</text>
<text transform="translate(1227.66,1630.32) scale(0.7942,0.7042)" font-family="Liberation Sans, Arial, sans-serif" font-size="100.0" font-weight="normal">−</text>
<text transform="translate(1271.95,1624.50) scale(1,1.02)" font-family="Liberation Sans, Arial, sans-serif" font-size="74" font-weight="bold" text-anchor="start" >4</text>
<text transform="translate(1527.81,1630.32) scale(0.7942,0.7042)" font-family="Liberation Sans, Arial, sans-serif" font-size="100.0" font-weight="normal">−</text>
<text transform="translate(1572.10,1624.50) scale(1,1.02)" font-family="Liberation Sans, Arial, sans-serif" font-size="74" font-weight="bold" text-anchor="start" >3</text>
<text transform="translate(1827.96,1630.32) scale(0.7942,0.7042)" font-family="Liberation Sans, Arial, sans-serif" font-size="100.0" font-weight="normal">−</text>
<text transform="translate(1872.25,1624.50) scale(1,1.02)" font-family="Liberation Sans, Arial, sans-serif" font-size="74" font-weight="bold" text-anchor="start" >2</text>
<text transform="translate(2128.11,1630.32) scale(0.7942,0.7042)" font-family="Liberation Sans, Arial, sans-serif" font-size="100.0" font-weight="normal">−</text>
<text transform="translate(2172.40,1624.50) scale(1,1.02)" font-family="Liberation Sans, Arial, sans-serif" font-size="74" font-weight="bold" text-anchor="start" >1</text>
<text transform="translate(928.5,1762.6) scale(1,1.0)" font-family="Liberation Sans, Arial, sans-serif" font-size="74" font-weight="bold" letter-spacing="0.25">log[abs<tspan font-weight="normal">(</tspan>i)], i[A/cm<tspan font-size="50" dx="4" dy="-29.5">2</tspan><tspan dx="2" dy="29.5">]</tspan></text>
<text transform="translate(90.50,1120.00) rotate(-90) scale(1,1.0)" font-family="Liberation Sans, Arial, sans-serif" font-size="75" font-weight="bold" text-anchor="start" letter-spacing="0.15">Potential [V vs. SCE]</text>
<text transform="translate(765.50,949.40) scale(1,1.045)" font-family="Liberation Sans, Arial, sans-serif" font-size="61" font-weight="bold" text-anchor="start" >AZ63_10m</text>
<text transform="translate(385.50,994.40) scale(1,1.045)" font-family="Liberation Sans, Arial, sans-serif" font-size="61" font-weight="bold" text-anchor="start" >AZ63_20m</text>
<text transform="translate(592.00,1193.30) scale(1,1.045)" font-family="Liberation Sans, Arial, sans-serif" font-size="61" font-weight="bold" text-anchor="start" >AZ63_5m</text>
<text transform="translate(1181.50,1211.30) scale(1,1.045)" font-family="Liberation Sans, Arial, sans-serif" font-size="61" font-weight="bold" text-anchor="start" >AZ63</text>
</svg>
</body></html>
